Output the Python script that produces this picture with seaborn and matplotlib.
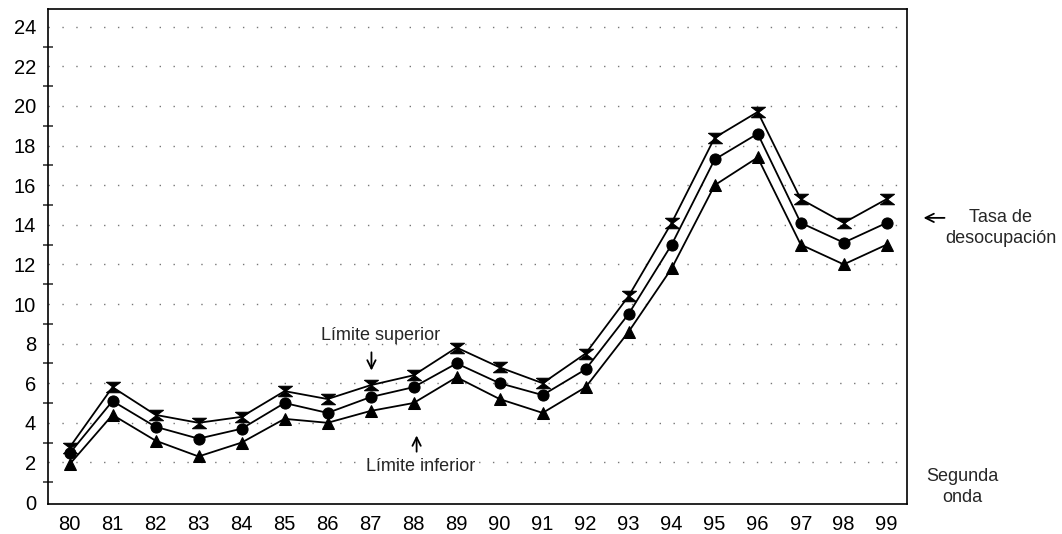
import numpy as np
import pandas as pd
import seaborn as sns
import matplotlib
matplotlib.use("Agg")
from matplotlib import pyplot as plt
from matplotlib.ticker import MultipleLocator

# años (eje x) y tasas de desocupación, segunda onda
years = [80, 81, 82, 83, 84, 85, 86, 87, 88, 89,
         90, 91, 92, 93, 94, 95, 96, 97, 98, 99]
tasa = [2.45, 5.1, 3.8, 3.2, 3.7, 5.0, 4.5, 5.3, 5.8, 7.0,
        6.0, 5.4, 6.7, 9.5, 13.0, 17.3, 18.6, 14.1, 13.1, 14.1]
superior = [2.75, 5.8, 4.4, 4.0, 4.3, 5.6, 5.2, 5.9, 6.4, 7.8,
            6.8, 6.0, 7.5, 10.4, 14.1, 18.4, 19.7, 15.3, 14.1, 15.3]
inferior = [1.9, 4.4, 3.1, 2.3, 3.0, 4.2, 4.0, 4.6, 5.0, 6.3,
            5.2, 4.5, 5.8, 8.6, 11.8, 16.0, 17.4, 13.0, 12.0, 13.0]
y_ticks = [0, 2, 4, 6, 8, 10, 12, 14, 16, 18, 20, 22, 24]

df = pd.DataFrame({"year": years, "tasa": tasa,
                   "superior": superior, "inferior": inferior})

sns.set_style("white")
plt.rcParams["font.family"] = ["Liberation Sans", "DejaVu Sans"]

fig = plt.figure(figsize=(10.62, 5.34), dpi=100)
ax = fig.add_axes([0.0452, 0.0562, 0.8088, 0.927])

# reloj de arena para el límite superior
hourglass = [(-1.2, 0.9), (1.2, 0.9), (-1.2, -0.9), (1.2, -0.9), (-1.2, 0.9)]

sns.lineplot(data=df, x="year", y="superior", ax=ax, color="black", lw=1.3,
             marker=hourglass, markersize=10, markeredgecolor="black",
             markeredgewidth=0.8)
sns.lineplot(data=df, x="year", y="tasa", ax=ax, color="black", lw=1.3,
             marker="o", markersize=8, markeredgecolor="black")
sns.lineplot(data=df, x="year", y="inferior", ax=ax, color="black", lw=1.3,
             marker="^", markersize=8, markeredgecolor="black")

ax.set_xlim(79.5, 99.47)
ax.set_ylim(-0.1, 24.9)
ax.set_xticks(years)
ax.set_xticklabels([str(y) for y in years], fontsize=14.5)
ax.set_yticks(y_ticks)
ax.set_yticklabels([str(v) for v in y_ticks], fontsize=14.5)
ax.yaxis.set_minor_locator(MultipleLocator(1))
ax.tick_params(axis="x", which="major", direction="inout", length=12,
               width=1.1, colors="black", pad=2)
ax.tick_params(axis="y", which="major", direction="inout", length=9,
               width=1.1, colors="black", pad=4)
ax.tick_params(axis="y", which="minor", direction="inout", length=7,
               width=1.1, left=True)
ax.set_xlabel("")
ax.set_ylabel("")

for s in ax.spines.values():
    s.set_color("black")
    s.set_linewidth(1.2)

for v in y_ticks[1:]:
    ax.axhline(v, color="#777777", lw=1.0, ls=(0, (1, 9)), zorder=0)

arrow = dict(arrowstyle="->,head_length=0.6,head_width=0.3",
             color="black", lw=1.3)
ax.text(87.23, 8.43, "Límite superior", ha="center", va="center", fontsize=13)
ax.annotate("", xy=(87.02, 6.5), xytext=(87.02, 7.7), arrowprops=arrow)
ax.text(88.16, 1.77, "Límite inferior", ha="center", va="center", fontsize=13)
ax.annotate("", xy=(88.07, 3.5), xytext=(88.07, 2.4), arrowprops=arrow)

ax.annotate("", xy=(0.867, 0.592), xytext=(0.892, 0.592),
            xycoords="figure fraction", textcoords="figure fraction",
            arrowprops=arrow)
fig.text(0.942, 0.592, "Tasa de", fontsize=13, ha="center", va="center")
fig.text(0.942, 0.553, "desocupación", fontsize=13, ha="center", va="center")
fig.text(0.906, 0.107, "Segunda", fontsize=13, ha="center", va="center")
fig.text(0.906, 0.069, "onda", fontsize=13, ha="center", va="center")

fig.savefig("out.png", dpi=100)
